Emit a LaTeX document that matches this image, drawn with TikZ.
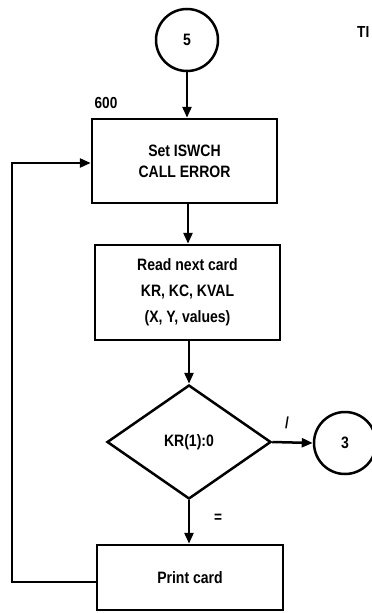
\documentclass[tikz,border=0pt]{standalone}
\usepackage{fontspec}
\setmainfont[FakeStretch=0.85]{Liberation Sans}
\usetikzlibrary{arrows.meta,shapes.geometric}
\begin{document}
\begin{tikzpicture}[x=1pt,y=-1pt,
  lw/.style={line width=2.5pt},
  txt/.style={font=\bfseries\fontsize{16.5}{21}\selectfont},
  boxnode/.style={draw,lw,rectangle,inner sep=0pt,align=center,txt},
  conn/.style={draw,lw,circle,inner sep=0pt,minimum size=62pt,txt},
  arr/.style={lw,-{Triangle[length=11pt,width=9pt]}},
  lbl/.style={font=\bfseries\fontsize{16}{18}\selectfont,inner sep=0pt}]
\useasboundingbox (0,0) rectangle (372,613);
\node[conn] (c5) at (187,40) {5};
\node[lbl] (l600) at (106,103) {600};
\node[boxnode,minimum width=185pt,minimum height=84pt] (b1) at (184.5,161) {Set ISWCH\\CALL ERROR};
\node[boxnode,minimum width=185pt,minimum height=95pt,font=\bfseries\fontsize{16.5}{26}\selectfont] (b2) at (187.5,292.5) {Read next card\\KR, KC, KVAL\\(X, Y, values)};
\node[draw,lw,diamond,inner sep=0pt,minimum width=164pt,minimum height=114pt,txt] (d) at (189,442) {KR(1):0};
\node[conn] (c3) at (345,443) {3};
\node[boxnode,minimum width=186pt,minimum height=65pt] (b3) at (190,577.5) {Print card};
\node[lbl] (lne) at (287,423) {/};
\node[lbl] (leq) at (218,518) {=};
\node[lbl,anchor=west] (ti) at (357,32) {TI};
\draw[arr] (c5.south) -- (c5.south |- b1.north);
\draw[arr] (b1.south -| 188,0) -- (b2.north -| 188,0);
\draw[arr] (b2.south -| d.north) -- (d.north);
\draw[arr] (d.east) -- (c3.west);
\draw[arr] (d.south) -- (d.south |- b3.north);
\draw[arr] ([yshift=-4.5pt]b3.west) -- ++(-84,0) |- ([yshift=-2pt]b1.west);
\end{tikzpicture}
\end{document}
